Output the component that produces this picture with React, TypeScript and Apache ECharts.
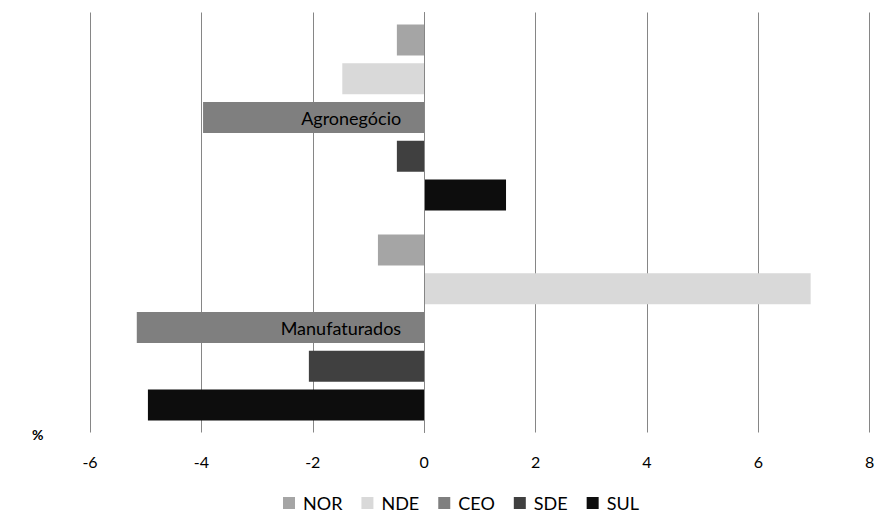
import React, { useEffect, useRef } from "react";
import * as echarts from "echarts";

const categories = ["Agronegócio", "Manufaturados"];
const seriesNames = ["NOR", "NDE", "CEO", "SDE", "SUL"];
const norValues = [-0.49, -0.83];
const ndeValues = [-1.47, 6.94];
const ceoValues = [-3.97, -5.16];
const sdeValues = [-0.49, -2.07];
const sulValues = [1.47, -4.96];
const colors = ["#a5a5a5", "#d9d9d9", "#7f7f7f", "#404040", "#0d0d0d"];
const xTicks = { min: -6, max: 8, interval: 2 };

const FONT = "Lato, 'Open Sans', sans-serif";
const GRID_LEFT = 90;
const GRID_RIGHT = 5.3;
const WIDTH = 875;

export default function App() {
  const ref = useRef<HTMLDivElement>(null);
  useEffect(() => {
    if (!ref.current) return;
    const chart = echarts.init(ref.current, undefined, { renderer: "svg" });
    const values = [norValues, ndeValues, ceoValues, sdeValues, sulValues];
    const plotW = WIDTH - GRID_LEFT - GRID_RIGHT;
    const zeroOffset = ((0 - xTicks.min) / (xTicks.max - xTicks.min)) * plotW;
    chart.setOption({
      animation: false,
      textStyle: { fontFamily: FONT },
      grid: {
        left: GRID_LEFT,
        right: GRID_RIGHT,
        top: 12.5,
        bottom: 80.5,
        containLabel: false,
        outerBoundsMode: "none",
      },
      xAxis: {
        type: "value",
        min: xTicks.min,
        max: xTicks.max,
        interval: xTicks.interval,
        axisLine: { show: false },
        axisTick: { show: false },
        axisLabel: { color: "#000", fontSize: 16, margin: 21, fontFamily: FONT },
        splitLine: { show: true, lineStyle: { color: "#868686", width: 1 } },
      },
      yAxis: {
        type: "category",
        data: categories,
        inverse: true,
        position: "left",
        offset: -zeroOffset,
        z: 10,
        axisLine: { show: true, onZero: false, lineStyle: { color: "#868686", width: 1 } },
        axisTick: { show: false },
        axisLabel: { color: "#000", fontSize: 18, margin: 23, fontFamily: FONT },
      },
      legend: {
        top: 494,
        left: 283,
        padding: 0,
        itemWidth: 12,
        itemHeight: 12,
        itemGap: 19,
        icon: "rect",
        textStyle: { fontSize: 18, lineHeight: 18, color: "#000", fontFamily: FONT, padding: [0, 0, 0, 3] },
        data: seriesNames,
      },
      graphic: [
        {
          type: "text",
          left: 32,
          top: 427,
          style: { text: "%", font: `bold 14px ${FONT}`, fill: "#000" },
        },
      ],
      series: seriesNames.map((name, i) => ({
        name,
        type: "bar",
        data: values[i],
        barWidth: 31,
        barGap: "25%",
        itemStyle: { color: colors[i] },
      })),
    });
    return () => chart.dispose();
  }, []);
  return <div ref={ref} style={{ width: 875, height: 513, position: "absolute", left: 0, top: 0 }} />;
}
